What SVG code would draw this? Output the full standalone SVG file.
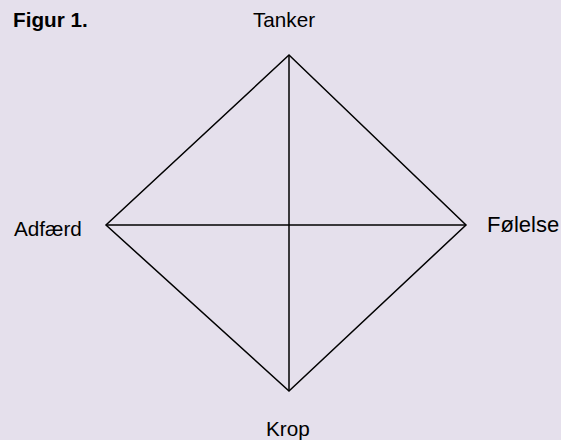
<svg xmlns="http://www.w3.org/2000/svg" width="561" height="440" viewBox="0 0 561 440">
<style>
.t{font-family:"Liberation Sans",Arial,sans-serif;font-size:20.7px;fill:#000}
.b{font-weight:bold}
.l{stroke:#000;stroke-width:1.5;fill:none}
</style>
<rect width="561" height="440" fill="#E5E0EC"/>
<g id="connectors">
<polygon class="l" points="289,55 466,225 289,391 106,225"/>
<line class="l" x1="289" y1="55" x2="289" y2="391"/>
<line class="l" x1="106" y1="225" x2="466" y2="225"/>
</g>
<g id="title"><text class="t b" x="13" y="27">Figur 1.</text></g>
<g id="tanker"><text class="t" x="253" y="27">Tanker</text></g>
<g id="adfaerd"><text class="t" x="14" y="236">Adfærd</text></g>
<g id="folelse"><text class="t" x="487" y="232" style="font-size:22px">Følelse</text></g>
<g id="krop"><text class="t" x="266" y="436">Krop</text></g>
</svg>
